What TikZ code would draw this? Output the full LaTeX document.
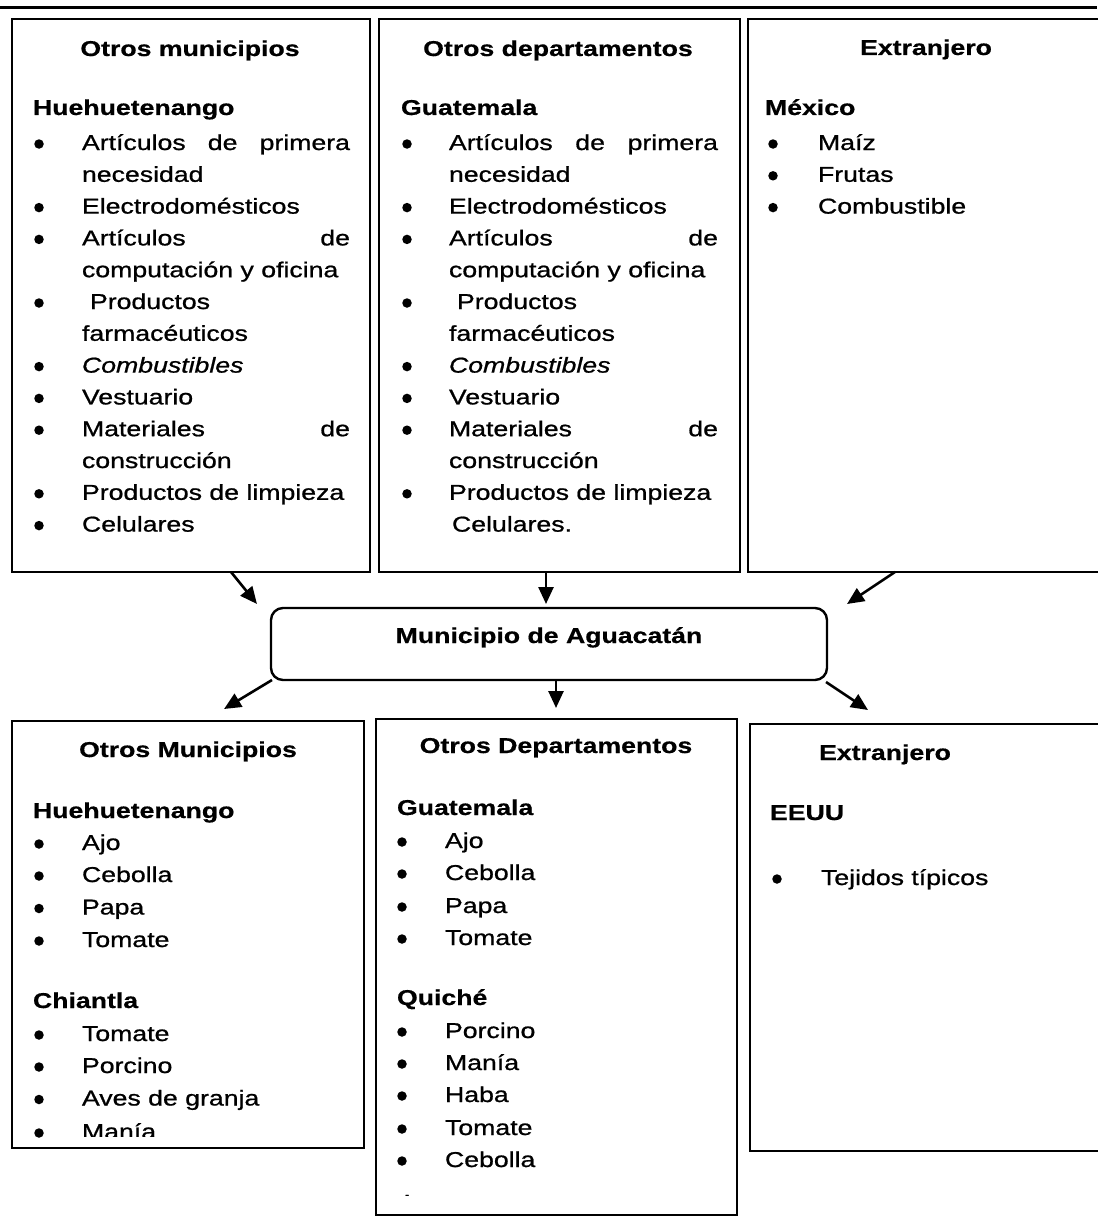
\documentclass[tikz,border=0pt]{standalone}
\usepackage{fontspec}
\setmainfont{Liberation Sans}[FakeStretch=1.24,
  UprightFeatures={FakeBold=0.9}, ItalicFeatures={FakeBold=0.9}, BoldFeatures={FakeBold=0.6}]
\usetikzlibrary{arrows.meta}
\newcommand\fsz{\fontsize{21.5}{26}\selectfont}
\newcommand\itm[3]{\node[bul] (#1b) at (\bx,#2-6) {};\node[txt] (#1) at (\tx,#2) {#3};}
\newcommand\lin[3]{\node[txt] (#1) at (\tx,#2) {#3};}
\begin{document}
\begin{tikzpicture}[x=1pt,y=-1pt,
  box/.style={draw, line width=2.4pt, inner sep=0pt, outer sep=0pt, anchor=north west},
  txt/.style={anchor=base west, inner sep=0pt, outer sep=0pt, font=\fsz},
  ttl/.style={anchor=base, inner sep=0pt, outer sep=0pt, font=\fsz\bfseries},
  hdr/.style={anchor=base west, inner sep=0pt, outer sep=0pt, font=\fsz\bfseries},
  bul/.style={circle, fill=black, inner sep=0pt, minimum size=9.5pt},
  arr/.style={line width=2.6pt, -{Triangle[length=17pt,width=15pt]}}]
\useasboundingbox (0,0) rectangle (1097,1220);
\fill[white] (0,0) rectangle (1097,1220);
\draw[line width=3pt] (0,8) -- (1097,8);

% ---------- top boxes ----------
\node[box, minimum width=358pt, minimum height=553pt] (b1) at (12,19) {};
\node[box, minimum width=361pt, minimum height=553pt] (b2) at (379,19) {};
\node[box, minimum width=360pt, minimum height=553pt] (b3) at (748,19) {};

% box 1
\node[ttl] (t1) at (190,56) {Otros municipios};
\node[hdr] (h1) at (33,115) {Huehuetenango};
\def\bx{39}\def\tx{82}
\itm{p1}{150}{\hbox to 268pt{Artículos\hfill de\hfill primera}}
\lin{p1x}{181.8}{necesidad}
\itm{p2}{213.6}{Electrodomésticos}
\itm{p3}{245.4}{\hbox to 268pt{Artículos\hfill de}}
\lin{p3x}{277.2}{computación y oficina}
\itm{p4}{309}{\hspace{8pt}Productos}
\lin{p4x}{340.8}{farmacéuticos}
\itm{p5}{372.6}{\itshape Combustibles}
\itm{p6}{404.4}{Vestuario}
\itm{p7}{436.2}{\hbox to 268pt{Materiales\hfill de}}
\lin{p7x}{468}{construcción}
\itm{p8}{499.8}{Productos de limpieza}
\itm{p9}{531.6}{Celulares}

% box 2
\node[ttl] (t2) at (558,56) {Otros departamentos};
\node[hdr] (h2) at (401,115) {Guatemala};
\def\bx{407}\def\tx{449}
\itm{q1}{150}{\hbox to 269pt{Artículos\hfill de\hfill primera}}
\lin{q1x}{181.8}{necesidad}
\itm{q2}{213.6}{Electrodomésticos}
\itm{q3}{245.4}{\hbox to 269pt{Artículos\hfill de}}
\lin{q3x}{277.2}{computación y oficina}
\itm{q4}{309}{\hspace{8pt}Productos}
\lin{q4x}{340.8}{farmacéuticos}
\itm{q5}{372.6}{\itshape Combustibles}
\itm{q6}{404.4}{Vestuario}
\itm{q7}{436.2}{\hbox to 269pt{Materiales\hfill de}}
\lin{q7x}{468}{construcción}
\itm{q8}{499.8}{Productos de limpieza}
\lin{q9}{531.6}{\hspace{3pt}Celulares.}

% box 3
\node[ttl] (t3) at (926,55) {Extranjero};
\node[hdr] (h3) at (765,115) {México};
\def\bx{773}\def\tx{818}
\itm{r1}{150}{Maíz}
\itm{r2}{181.8}{Frutas}
\itm{r3}{213.6}{Combustible}

% ---------- centre ----------
\node[box, rounded corners=12pt, minimum width=556pt, minimum height=72pt] (c) at (271,608) {};
\node[ttl] (ct) at (549,643) {Municipio de Aguacatán};

% ---------- bottom boxes ----------
\node[box, minimum width=352pt, minimum height=427pt] (b4) at (12,721) {};
\node[box, minimum width=361pt, minimum height=496pt] (b5) at (376,719) {};
\node[box, minimum width=360pt, minimum height=427pt] (b6) at (750,724) {};

% box 4
\node[ttl] (t4) at (188,757) {Otros Municipios};
\node[hdr] (h4) at (33,818) {Huehuetenango};
\def\bx{39}\def\tx{82}
\itm{s1}{850}{Ajo}
\itm{s2}{882}{Cebolla}
\itm{s3}{914.5}{Papa}
\itm{s4}{947}{Tomate}
\node[hdr] (h4b) at (33,1008) {Chiantla};
\itm{s5}{1041}{Tomate}
\itm{s6}{1073}{Porcino}
\itm{s7}{1105.5}{Aves de granja}
\node[bul] (s8b) at (39,1133) {};
\begin{scope}
\clip (0,0) rectangle (1097,1136);
\node[txt] (s8) at (82,1139) {Manía};
\end{scope}

% box 5
\node[ttl] (t5) at (556,753) {Otros Departamentos};
\node[hdr] (h5) at (397,815) {Guatemala};
\def\bx{402}\def\tx{445}
\itm{u1}{848}{Ajo}
\itm{u2}{880}{Cebolla}
\itm{u3}{913}{Papa}
\itm{u4}{945}{Tomate}
\node[hdr] (h5b) at (397,1005) {Quiché};
\itm{u5}{1038}{Porcino}
\itm{u6}{1070}{Manía}
\itm{u7}{1102}{Haba}
\itm{u8}{1135}{Tomate}
\itm{u9}{1167}{Cebolla}
\node[txt, font=\fontsize{10}{10}\selectfont] (dash) at (405,1198) {-};

% box 6
\node[ttl] (t6) at (885,760) {Extranjero};
\node[hdr] (h6) at (770,820) {EEUU};
\def\bx{777}\def\tx{821}
\itm{v1}{885}{Tejidos típicos}

% ---------- arrows ----------
\draw[arr] ([xshift=219pt]b1.south west) -- ([xshift=-14pt,yshift=4pt]c.north west);
\draw[arr] ([xshift=167pt]b2.south west) -- ([xshift=275pt,yshift=4pt]c.north west);
\draw[arr] ([xshift=147pt]b3.south west) -- ([xshift=20pt,yshift=4pt]c.north east);
\draw[arr] ([xshift=1pt]c.south west) -- ([xshift=212pt,yshift=12pt]b4.north west);
\draw[arr] ([xshift=285pt]c.south west) -- ([xshift=180pt,yshift=11pt]b5.north west);
\draw[arr] ([xshift=-1pt,yshift=-2pt]c.south east) -- ([xshift=118pt,yshift=14pt]b6.north west);
\end{tikzpicture}
\end{document}
